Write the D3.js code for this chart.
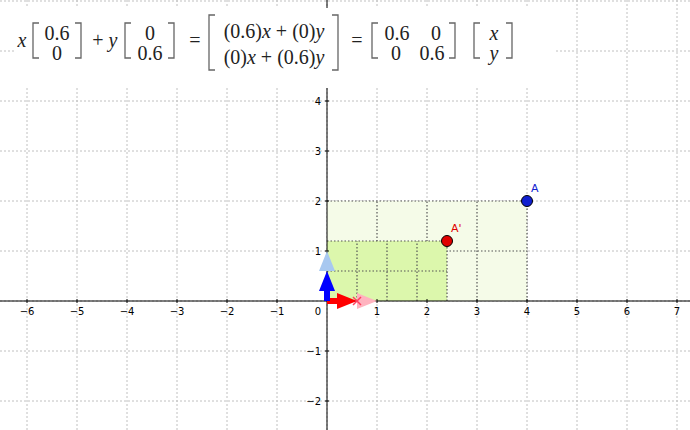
<!DOCTYPE html>
<html><head><meta charset="utf-8">
<script src="https://cdn.jsdelivr.net/npm/d3@7"></script>
<style>body{margin:0;background:#fff}svg{display:block}</style>
</head><body>
<svg id="chart" width="690" height="430"></svg>
<script>
const xTicks = [-6, -5, -4, -3, -2, -1, 1, 2, 3, 4, 5, 6, 7];
const yTicks = [-2, -1, 1, 2, 3, 4];
const matrix = [[0.6, 0], [0, 0.6]];
const pointA = {name: "A", x: 4, y: 2};
const pointB = {name: "A'", x: 2.4, y: 1.2};

const svg = d3.select("#chart");
const x = d3.scaleLinear().domain([-6.54, 7.26]).range([0, 690]);
const y = d3.scaleLinear().domain([-2.58, 6.02]).range([430, 0]);

// grid
const gridX = d3.range(-6, 8), gridY = d3.range(-2, 7);
svg.selectAll(".gx").data(gridX).enter().append("line")
  .attr("x1", d => x(d)).attr("x2", d => x(d)).attr("y1", 0).attr("y2", 430)
  .attr("stroke", "#c0c0c0").attr("stroke-dasharray", "2,2");
svg.selectAll(".gy").data(gridY).enter().append("line")
  .attr("y1", d => y(d)).attr("y2", d => y(d)).attr("x1", 0).attr("x2", 690)
  .attr("stroke", "#c0c0c0").attr("stroke-dasharray", "2,2");

// original rectangle and image
function cellRect(px, py, fill, step) {
  svg.append("rect").attr("x", x(0)).attr("y", y(py))
    .attr("width", x(px) - x(0)).attr("height", y(0) - y(py)).attr("fill", fill);
  const g = svg.append("g").attr("stroke", "#555").attr("stroke-dasharray", "1.5,2").attr("stroke-width", 1.2);
  const vs = d3.range(1, Math.round(px / step) + 1).map(i => i * step);
  const hs = d3.range(1, Math.round(py / step) + 1).map(i => i * step);
  g.selectAll(".v").data(vs).enter().append("line")
    .attr("x1", d => x(d)).attr("x2", d => x(d)).attr("y1", y(0)).attr("y2", y(py));
  g.selectAll(".h").data(hs).enter().append("line")
    .attr("y1", d => y(d)).attr("y2", d => y(d)).attr("x1", x(0)).attr("x2", x(px));
}
cellRect(pointA.x, pointA.y, "#f5fbe8", 1);
cellRect(pointB.x, pointB.y, "#dcf7ac", matrix[0][0]);

// axes
svg.append("line").attr("x1", 0).attr("x2", 690).attr("y1", y(0)).attr("y2", y(0)).attr("stroke", "#000");
svg.append("line").attr("x1", x(0)).attr("x2", x(0)).attr("y1", 0).attr("y2", 430).attr("stroke", "#000");
svg.selectAll(".xt").data(xTicks).enter().append("text")
  .attr("x", d => x(d)).attr("y", y(0) + 14).attr("text-anchor", "middle")
  .attr("font-family", "DejaVu Sans").attr("font-size", 10).text(d => d < 0 ? "\u2212" + (-d) : d);
svg.selectAll(".xm").data(xTicks).enter().append("line")
  .attr("x1", d => x(d)).attr("x2", d => x(d)).attr("y1", y(0) - 2).attr("y2", y(0) + 2).attr("stroke", "#000");
svg.selectAll(".yt").data(yTicks).enter().append("text")
  .attr("x", x(0) - 6).attr("y", d => y(d) + 4).attr("text-anchor", "end")
  .attr("font-family", "DejaVu Sans").attr("font-size", 10).text(d => d < 0 ? "\u2212" + (-d) : d);
svg.selectAll(".ym").data(yTicks).enter().append("line")
  .attr("y1", d => y(d)).attr("y2", d => y(d)).attr("x1", x(0) - 2).attr("x2", x(0) + 2).attr("stroke", "#000");
svg.append("text").attr("x", x(0) - 6).attr("y", y(0) + 14).attr("text-anchor", "end")
  .attr("font-family", "DejaVu Sans").attr("font-size", 10).text("0");

// basis vectors (flat, wedge-like)
function arrow(x1, y1, x2, y2, color, w) {
  const dx = x(x2) - x(x1), dy = y(y2) - y(y1), len = Math.hypot(dx, dy);
  const ux = dx / len, uy = dy / len, hl = 20, hw = 8;
  const bx = x(x2) - ux * hl, by = y(y2) - uy * hl;
  svg.append("line").attr("x1", x(x1)).attr("y1", y(y1)).attr("x2", bx).attr("y2", by)
    .attr("stroke", color).attr("stroke-width", w);
  svg.append("path").attr("fill", color)
    .attr("d", `M${x(x2)},${y(y2)}L${bx - uy * hw},${by + ux * hw}L${bx + uy * hw},${by - ux * hw}Z`);
}
arrow(matrix[0][0], 0, 1, 0, "#ffb3bf", 5);
arrow(0, matrix[1][1], 0, 1, "#a8c8f0", 5);
arrow(0, 0, matrix[0][0], 0, "#ff0000", 6);
arrow(0, 0, 0, matrix[1][1], "#0000ff", 6);
const cx = x(matrix[0][0]), cy = y(0);
svg.append("path").attr("d", `M${cx - 4},${cy - 4}L${cx + 4},${cy + 4}M${cx - 4},${cy + 4}L${cx + 4},${cy - 4}`)
  .attr("stroke", "#ff4060").attr("stroke-width", 1.5);

// points
[[pointA, "#1020d0"], [pointB, "#e00000"]].forEach(([p, c]) => {
  svg.append("circle").attr("cx", x(p.x)).attr("cy", y(p.y)).attr("r", 5.5)
    .attr("fill", c).attr("stroke", "#000").attr("stroke-width", 1);
  svg.append("text").attr("x", x(p.x) + 4).attr("y", y(p.y) - 9)
    .attr("fill", c).attr("font-family", "DejaVu Sans").attr("font-size", 11).text(p.name);
});

// formula
svg.append("rect").attr("x", 14).attr("y", 8).attr("width", 542).attr("height", 80).attr("fill", "#fff");
const f = svg.append("g").attr("font-family", "Liberation Serif").attr("font-size", 20).attr("fill", "#222");
function t(tx, ty, s, it) {
  f.append("text").attr("x", tx).attr("y", ty).attr("text-anchor", "middle")
    .attr("font-style", it ? "italic" : "normal").text(s);
}
function expr(tx, ty, a, b) {
  const e = f.append("text").attr("x", tx).attr("y", ty).attr("text-anchor", "middle");
  e.append("tspan").text(`(${a})`);
  e.append("tspan").attr("font-style", "italic").text("x");
  e.append("tspan").text(` + (${b})`);
  e.append("tspan").attr("font-style", "italic").text("y");
}
function br(bx, dir, top, bot) {
  f.append("path").attr("d", `M${bx + dir * 6},${top}L${bx},${top}L${bx},${bot}L${bx + dir * 6},${bot}`)
    .attr("fill", "none").attr("stroke", "#666").attr("stroke-width", 1.3);
}
t(22, 47, "x", true);
br(33, 1, 23, 58); t(57, 40, matrix[0][0]); t(57, 60, matrix[1][0]); br(81, -1, 23, 58);
t(98, 47, "+"); t(113, 47, "y", true);
br(125, 1, 23, 58); t(150, 40, matrix[0][1]); t(150, 60, matrix[1][1]); br(174, -1, 23, 58);
t(195, 47, "=");
br(209, 1, 15, 70);
expr(274, 38, matrix[0][0], matrix[0][1]);
expr(274, 64, matrix[1][0], matrix[1][1]);
br(338, -1, 15, 70);
t(357, 47, "=");
br(372, 1, 23, 58);
t(397, 40, matrix[0][0]); t(436, 40, matrix[0][1]);
t(396, 60, matrix[1][0]); t(432, 60, matrix[1][1]);
br(455, -1, 23, 58);
br(474, 1, 23, 58); t(494, 40, "x", true); t(494, 60, "y", true); br(512, -1, 23, 58);
</script>
</body></html>
